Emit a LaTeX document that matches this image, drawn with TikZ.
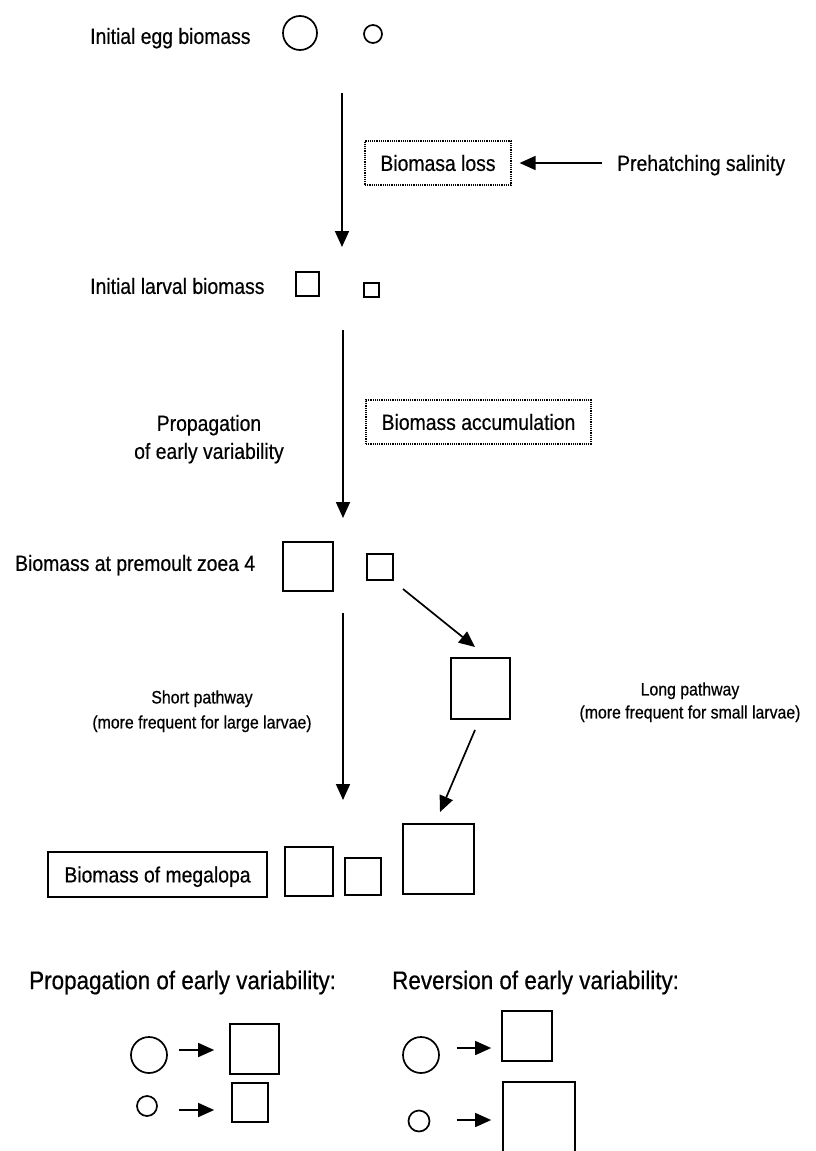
\documentclass[tikz,border=0pt]{standalone}
\usepackage{fontspec}
\setmainfont[FakeStretch=0.88,FakeBold=0.5]{Liberation Sans}
\usetikzlibrary{arrows.meta,calc}
\begin{document}
\begin{tikzpicture}[x=1pt,y=-1pt,
  arr/.style={line width=1.7pt,-{Triangle[length=16pt,width=14pt]}},
  txt/.style={inner sep=0pt,anchor=west,font=\fontsize{22}{26}\selectfont,text height=15.8pt,text depth=0pt},
  smalltxt/.style={inner sep=0pt,anchor=center,font=\fontsize{18}{22}\selectfont,text height=12.9pt,text depth=0pt},
  headtxt/.style={inner sep=0pt,anchor=west,font=\fontsize{25.5}{30}\selectfont,text height=18.3pt,text depth=0pt},
  circ/.style={circle,draw,line width=1.7pt,inner sep=0pt,minimum size=#1},
  sq/.style 2 args={rectangle,draw,line width=1.7pt,inner sep=0pt,minimum width=#1,minimum height=#2},
  dotbox/.style 2 args={draw,densely dotted,line width=1.2pt,inner sep=0pt,minimum width=#1,minimum height=#2,font=\fontsize{22}{26}\selectfont,text height=15.8pt,text depth=0pt},
  solidbox/.style 2 args={draw,line width=1.6pt,inner sep=0pt,minimum width=#1,minimum height=#2,font=\fontsize{22}{26}\selectfont,text height=15.8pt,text depth=0pt}
]
\path[use as bounding box,fill=white] (0,0) rectangle (815,1151);

% Row 1: eggs
\node[txt] (egg) at (90,36) {Initial egg biomass};
\node[circ=34pt] (eggbig) at (300,33) {};
\node[circ=18pt] (eggsmall) at (373,34) {};

% Biomass loss
\node[dotbox={146pt}{44pt}] (loss) at (438,163) {Biomasa loss};
\node[txt] (prehatch) at (617,163) {Prehatching salinity};
\draw[arr] ([xshift=-15pt]prehatch.west) -- ([xshift=8pt]loss.east);

\coordinate (a1s) at (342,93);
\coordinate (a1e) at (342,247);
\draw[arr] (a1s) -- (a1e);

% Row 2: larvae
\node[txt] (larval) at (90,286) {Initial larval biomass};
\node[sq={23pt}{24pt}] (larbig) at (307.5,284) {};
\node[sq={15pt}{14pt}] (larsmall) at (371.5,290) {};

\coordinate (a2s) at (343,330);
\coordinate (a2e) at (343,518);
\draw[arr] (a2s) -- (a2e);

\node[txt,anchor=center] (prop1) at (209,423) {Propagation};
\node[txt,anchor=center] (prop2) at (209,451) {of early variability};
\node[dotbox={225pt}{44pt}] (accum) at (478.5,422) {Biomass accumulation};

% Row 3: premoult zoea 4
\node[txt] (premoult) at (15,563) {Biomass at premoult zoea 4};
\node[sq={50pt}{49pt}] (prebig) at (308,566.5) {};
\node[sq={26pt}{26pt}] (presmall) at (380,567) {};

\coordinate (a3s) at (343,613);
\coordinate (a3e) at (343,800);
\draw[arr] (a3s) -- (a3e);

\coordinate (d1s) at (403,589);
\coordinate (d1e) at (475,647);
\draw[arr] (d1s) -- (d1e);

\node[sq={59pt}{61pt}] (midsq) at (480.5,688.5) {};

\coordinate (d2s) at (475,730);
\coordinate (d2e) at (440,812);
\draw[arr] (d2s) -- (d2e);

\node[smalltxt] (short1) at (202,697) {Short pathway};
\node[smalltxt] (short2) at (202,722) {(more frequent for large larvae)};
\node[smalltxt] (long1) at (690,689) {Long pathway};
\node[smalltxt] (long2) at (690,712) {(more frequent for small larvae)};

% Row 4: megalopa
\node[solidbox={219pt}{45pt}] (mega) at (157.5,874.5) {Biomass of megalopa};
\node[sq={48pt}{49pt}] (meg1) at (309,871.5) {};
\node[sq={36pt}{37pt}] (meg2) at (363,876.5) {};
\node[sq={71pt}{70pt}] (meg3) at (438.5,859) {};

% Legend: propagation
\node[headtxt] (headprop) at (29,980) {Propagation of early variability:};
\node[circ=36pt] (bc1) at (149,1055) {};
\node[sq={49pt}{50pt}] (bs1) at (254.5,1049) {};
\draw[arr] ($(bc1.east)+(11,-5)$) -- ($(bs1.west)+(-15,1)$);
\node[circ=20pt] (bc2) at (147,1106) {};
\node[sq={36pt}{39pt}] (bs2) at (250,1102.5) {};
\draw[arr] ($(bc2.east)+(21,4)$) -- ($(bs2.west)+(-17,7.5)$);

% Legend: reversion
\node[headtxt] (headrev) at (392,980) {Reversion of early variability:};
\node[circ=36pt] (rc1) at (421,1055) {};
\node[sq={50pt}{50pt}] (rs1) at (527,1036) {};
\draw[arr] ($(rc1.east)+(17,-7)$) -- ($(rs1.west)+(-10,12)$);
\node[circ=21pt] (rc2) at (419,1121) {};
\node[sq={72pt}{78pt}] (rs2) at (539,1121) {};
\draw[arr] ($(rc2.east)+(26.5,-1)$) -- ($(rs2.west)+(-11,-1)$);
\end{tikzpicture}
\end{document}
